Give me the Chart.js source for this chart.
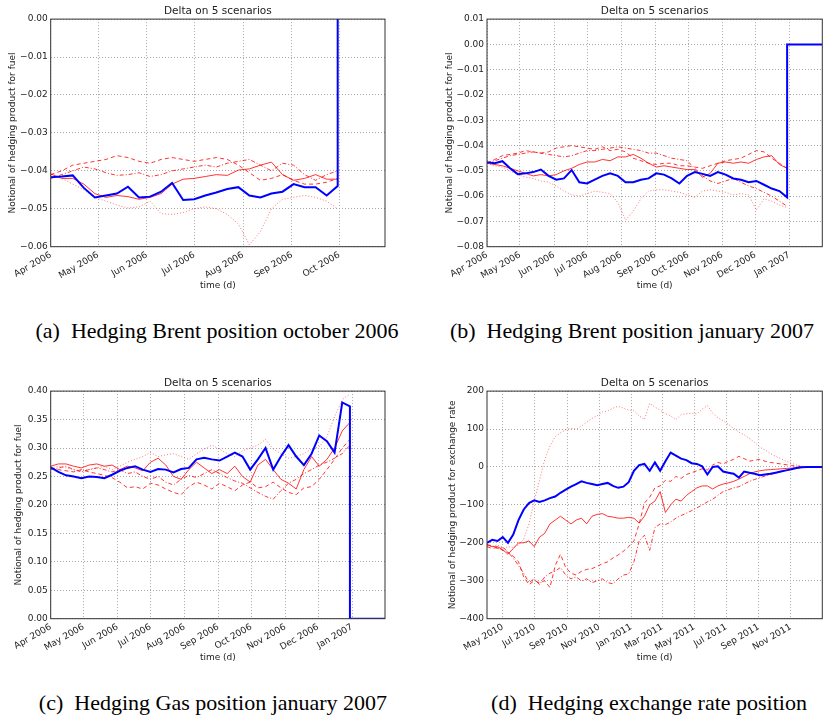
<!DOCTYPE html>
<html>
<head>
<meta charset="utf-8">
<script src="https://cdn.jsdelivr.net/npm/chart.js@4"></script>
<style>
  body { margin: 0; background: #fff; width: 833px; height: 719px; position: relative; overflow: hidden; }
  canvas { position: absolute; }
  .cap { position: absolute; width: 500px; text-align: center; font: 22px 'Liberation Serif', serif; line-height: 22px; color: #000; white-space: nowrap; }
</style>
</head>
<body>
<canvas id="ca" width="400" height="293" style="left:0;top:0"></canvas>
<canvas id="cb" width="420" height="293" style="left:413px;top:0"></canvas>
<canvas id="cc" width="400" height="293" style="left:0;top:372px"></canvas>
<canvas id="cd" width="420" height="293" style="left:413px;top:372px"></canvas>
<div class="cap" style="left:-33px;top:320px">(a)&#8194;Hedging Brent position october 2006</div>
<div class="cap" style="left:382px;top:320px">(b)&#8194;Hedging Brent position january 2007</div>
<div class="cap" style="left:-37px;top:692px">(c)&#8194;Hedging Gas position january 2007</div>
<div class="cap" style="left:399px;top:692px">(d)&#8194;Hedging exchange rate position</div>
<script>
// (a) Brent Oct 2006 -- one value every 7 days from 1 Apr 2006
const aStart = '2006-04-01';
const aTicks = ['2006-04-01', '2006-05-01', '2006-06-01', '2006-07-01', '2006-08-01', '2006-09-01', '2006-10-01'];
const aBlue = [-0.0417, -0.0415, -0.0412, -0.0445, -0.047, -0.0465, -0.046, -0.0442, -0.047, -0.0468, -0.0455, -0.0432, -0.0477, -0.0475, -0.0465, -0.0457, -0.0448, -0.0443, -0.0465, -0.047, -0.046, -0.0455, -0.0435, -0.0443, -0.0443, -0.0465, -0.044];
const aBlueTailDays = [182];
const aBlueTailVals = [0];
const aRed = [-0.0408, -0.042, -0.042, -0.0435, -0.046, -0.047, -0.0465, -0.0468, -0.0475, -0.047, -0.046, -0.0435, -0.0422, -0.042, -0.0415, -0.041, -0.0412, -0.0398, -0.0395, -0.0385, -0.0377, -0.041, -0.0425, -0.042, -0.041, -0.0422, -0.0422];
const aDash = [-0.041, -0.040, -0.0385, -0.038, -0.0375, -0.037, -0.036, -0.0365, -0.0375, -0.038, -0.037, -0.0365, -0.037, -0.0375, -0.037, -0.0365, -0.037, -0.0385, -0.0405, -0.0425, -0.042, -0.041, -0.0425, -0.0435, -0.0435, -0.043, -0.042];
const aDashDot = [-0.042, -0.041, -0.040, -0.039, -0.0395, -0.0405, -0.0412, -0.041, -0.0405, -0.0415, -0.041, -0.040, -0.0395, -0.039, -0.0385, -0.039, -0.038, -0.0375, -0.037, -0.0385, -0.040, -0.038, -0.0385, -0.041, -0.0425, -0.041, -0.040];
const aDot = [-0.041, -0.042, -0.0435, -0.045, -0.047, -0.048, -0.049, -0.0498, -0.0495, -0.048, -0.0513, -0.0515, -0.051, -0.050, -0.0495, -0.050, -0.0515, -0.054, -0.0595, -0.056, -0.050, -0.0475, -0.047, -0.0465, -0.047, -0.048, -0.050];

// (b) Brent Jan 2007
const bStart = '2006-04-01';
const bTicks = ['2006-04-01', '2006-05-01', '2006-06-01', '2006-07-01', '2006-08-01', '2006-09-01', '2006-10-01', '2006-11-01', '2006-12-01', '2007-01-01'];
const bBlue = [-0.0466, -0.047, -0.0462, -0.049, -0.0513, -0.051, -0.0505, -0.0495, -0.052, -0.0535, -0.053, -0.0497, -0.0545, -0.055, -0.0535, -0.052, -0.051, -0.052, -0.0545, -0.0545, -0.0535, -0.053, -0.051, -0.0515, -0.053, -0.055, -0.052, -0.0505, -0.0512, -0.052, -0.0505, -0.0515, -0.053, -0.0535, -0.0545, -0.054, -0.0555, -0.057, -0.058, -0.0605];
const bBlueTailDays = [273, 305];
const bBlueTailVals = [0, 0];
const bRed = [-0.047, -0.0475, -0.048, -0.049, -0.050, -0.051, -0.052, -0.0515, -0.052, -0.0515, -0.050, -0.049, -0.0475, -0.0465, -0.0465, -0.0455, -0.046, -0.0445, -0.0445, -0.0435, -0.045, -0.047, -0.0485, -0.048, -0.0485, -0.049, -0.0495, -0.0495, -0.0525, -0.051, -0.047, -0.0465, -0.047, -0.0465, -0.047, -0.0455, -0.0445, -0.044, -0.0475, -0.049];
const bDash = [-0.047, -0.0455, -0.044, -0.0435, -0.043, -0.042, -0.0425, -0.043, -0.0425, -0.041, -0.0405, -0.040, -0.0405, -0.041, -0.0415, -0.0405, -0.042, -0.0415, -0.0425, -0.045, -0.046, -0.047, -0.0475, -0.047, -0.047, -0.048, -0.048, -0.0485, -0.049, -0.048, -0.047, -0.046, -0.0455, -0.045, -0.0435, -0.042, -0.0425, -0.045, -0.047, -0.049];
const bDashDot = [-0.047, -0.046, -0.045, -0.044, -0.0435, -0.043, -0.0425, -0.043, -0.0435, -0.044, -0.0445, -0.044, -0.043, -0.042, -0.042, -0.0415, -0.041, -0.0405, -0.041, -0.0415, -0.042, -0.043, -0.043, -0.044, -0.045, -0.0455, -0.046, -0.049, -0.052, -0.054, -0.055, -0.054, -0.053, -0.0545, -0.056, -0.057, -0.0585, -0.060, -0.062, -0.064];
const bDot = [-0.047, -0.048, -0.0485, -0.050, -0.0515, -0.0525, -0.053, -0.054, -0.0545, -0.056, -0.058, -0.0595, -0.060, -0.059, -0.058, -0.0585, -0.059, -0.0625, -0.0695, -0.066, -0.061, -0.058, -0.0575, -0.0575, -0.058, -0.0585, -0.0595, -0.0605, -0.058, -0.0575, -0.058, -0.0585, -0.0595, -0.059, -0.0595, -0.0655, -0.061, -0.062, -0.0635, -0.0645];

// (c) Gas Jan 2007
const cStart = '2006-04-01';
const cTicks = bTicks;
const cBlue = [0.266, 0.258, 0.252, 0.250, 0.247, 0.250, 0.249, 0.247, 0.253, 0.260, 0.265, 0.268, 0.262, 0.258, 0.263, 0.262, 0.257, 0.263, 0.265, 0.280, 0.283, 0.280, 0.278, 0.285, 0.292, 0.285, 0.262, 0.280, 0.300, 0.262, 0.285, 0.305, 0.285, 0.270, 0.290, 0.322, 0.312, 0.292, 0.380, 0.373];
const cBlueTailDays = [273, 305];
const cBlueTailVals = [0, 0];
const cRed = [0.268, 0.272, 0.272, 0.268, 0.265, 0.270, 0.272, 0.268, 0.270, 0.262, 0.268, 0.265, 0.260, 0.275, 0.282, 0.270, 0.250, 0.245, 0.262, 0.275, 0.265, 0.255, 0.262, 0.255, 0.268, 0.250, 0.240, 0.270, 0.280, 0.262, 0.245, 0.238, 0.228, 0.262, 0.285, 0.268, 0.280, 0.300, 0.330, 0.345];
const cDash = [0.265, 0.262, 0.260, 0.258, 0.262, 0.258, 0.255, 0.252, 0.248, 0.240, 0.230, 0.232, 0.228, 0.238, 0.235, 0.228, 0.222, 0.218, 0.232, 0.240, 0.235, 0.228, 0.238, 0.232, 0.225, 0.235, 0.240, 0.230, 0.232, 0.240, 0.230, 0.222, 0.218, 0.230, 0.232, 0.245, 0.262, 0.280, 0.300, 0.315];
const cDashDot = [0.262, 0.265, 0.268, 0.262, 0.258, 0.262, 0.265, 0.262, 0.258, 0.262, 0.255, 0.258, 0.250, 0.245, 0.250, 0.240, 0.235, 0.245, 0.252, 0.248, 0.255, 0.262, 0.255, 0.248, 0.242, 0.238, 0.230, 0.222, 0.215, 0.210, 0.225, 0.238, 0.245, 0.255, 0.262, 0.270, 0.275, 0.282, 0.290, 0.305];
const cDot = [0.265, 0.268, 0.265, 0.262, 0.260, 0.262, 0.265, 0.268, 0.262, 0.268, 0.275, 0.280, 0.285, 0.292, 0.285, 0.288, 0.290, 0.285, 0.280, 0.290, 0.298, 0.305, 0.298, 0.290, 0.285, 0.295, 0.300, 0.305, 0.315, 0.298, 0.290, 0.282, 0.285, 0.290, 0.298, 0.302, 0.320, 0.355, 0.385, 0.395];

// (d) exchange rate -- one value every 10 days from 1 Apr 2010
const dStart = '2010-04-01';
const dTicks = ['2010-05-01', '2010-07-01', '2010-09-01', '2010-11-01', '2011-01-01', '2011-03-01', '2011-05-01', '2011-07-01', '2011-09-01', '2011-11-01'];
const dBlue = [-200, -192, -195, -185, -200, -178, -140, -112, -95, -88, -92, -88, -82, -78, -68, -60, -52, -45, -38, -42, -45, -48, -45, -42, -50, -55, -52, -40, -10, 5, 8, -10, 12, -10, 15, 38, 30, 22, 18, 10, 8, 2, -20, 0, 2, -12, -15, -18, -28, -12, -15, -18, -22, -20, -18, -15, -12, -9, -6, -3, -1, 0, 0, 0, 0];
const dRed = [-205, -210, -210, -218, -230, -215, -200, -200, -195, -210, -185, -175, -150, -140, -130, -140, -150, -140, -135, -150, -130, -125, -123, -130, -132, -135, -135, -133, -135, -148, -130, -100, -90, -65, -120, -100, -85, -90, -75, -65, -55, -50, -50, -58, -50, -45, -42, -38, -32, -25, -18, -13, -10, -8, -7, -6, -5, -4, -3, -2, -1, 0, 0, 0, 0];
const dDash = [-210, -215, -212, -220, -225, -235, -250, -290, -310, -300, -305, -300, -318, -260, -230, -265, -280, -285, -275, -270, -268, -262, -255, -250, -240, -232, -222, -210, -195, -150, -95, -80, -55, -50, -35, -38, -25, -30, -20, -15, -10, -5, -8, 5, 12, 8, 15, 20, 28, 22, 15, 18, 20, 15, 12, 10, 8, 6, 4, 2, 1, 0, 0, 0, 0];
const dDashDot = [-205, -208, -215, -210, -225, -240, -260, -280, -305, -295, -310, -290, -280, -275, -265, -285, -295, -290, -300, -295, -305, -300, -295, -305, -308, -295, -285, -282, -250, -195, -180, -220, -160, -150, -152, -145, -135, -128, -122, -115, -108, -100, -92, -85, -75, -65, -60, -55, -52, -45, -38, -33, -28, -24, -20, -16, -12, -9, -6, -3, -1, 0, 0, 0, 0];
const dDot = [-205, -210, -205, -215, -210, -212, -205, -190, -150, -90, -35, 20, 55, 80, 90, 98, 102, 100, 108, 118, 128, 135, 145, 148, 155, 160, 155, 150, 148, 135, 125, 168, 158, 150, 140, 135, 125, 138, 140, 142, 140, 152, 162, 142, 130, 122, 112, 102, 92, 85, 75, 65, 52, 45, 35, 28, 22, 15, 10, 5, 2, 0, 0, 0, 0];

const monthNames = ['Jan', 'Feb', 'Mar', 'Apr', 'May', 'Jun', 'Jul', 'Aug', 'Sep', 'Oct', 'Nov', 'Dec'];
const dayOf = (iso, start) => Math.round((Date.parse(iso) - Date.parse(start)) / 864e5);
const tickName = iso => monthNames[+iso.slice(5, 7) - 1] + ' ' + iso.slice(0, 4);

function pts(vals, step, days) {
  return vals.map((v, i) => ({ x: days ? days[i] : i * step, y: v }));
}

const styles = {
  blue: { borderColor: '#0000ff', borderWidth: 2 },
  solid: { borderColor: '#ff0000', borderWidth: 0.8 },
  dash: { borderColor: '#ff0000', borderWidth: 0.8, borderDash: [4, 3] },
  dashdot: { borderColor: '#ff0000', borderWidth: 0.8, borderDash: [4, 2, 1, 2] },
  dot: { borderColor: 'rgba(255,0,0,0.55)', borderWidth: 1, borderDash: [1, 2] }
};

// matplotlib draws a box around the axes
const frame = {
  id: 'frame',
  afterDatasetsDraw(chart) {
    const { ctx, chartArea: a } = chart;
    ctx.save();
    ctx.strokeStyle = '#333';
    ctx.lineWidth = 1;
    ctx.strokeRect(a.left, a.top, a.right - a.left, a.bottom - a.top);
    ctx.restore();
  }
};

function fmt(v, dec) {
  const r = Math.round(v * Math.pow(10, dec)) / Math.pow(10, dec);
  return (r < 0 ? '\u2212' : '') + Math.abs(r).toFixed(dec);
}

const txt = '#222';
const gridStyle = { color: '#a8a8a8', lineWidth: 1, drawTicks: false };

function makeChart(id, o) {
  const tickDays = o.ticks.map(t => dayOf(t, o.start));
  const tickText = o.ticks.map(tickName);
  new Chart(document.getElementById(id), {
    type: 'line',
    data: {
      datasets: [
        { data: o.blue, ...styles.blue },
        { data: o.red, ...styles.solid },
        { data: o.dash, ...styles.dash },
        { data: o.dashdot, ...styles.dashdot },
        { data: o.dot, ...styles.dot }
      ]
    },
    options: {
      responsive: false,
      animation: false,
      devicePixelRatio: 1,
      layout: { padding: { left: 0, right: o.padRight, top: 0, bottom: 0 } },
      elements: { point: { radius: 0 }, line: { tension: 0 } },
      plugins: {
        legend: { display: false },
        tooltip: { enabled: false },
        title: {
          display: true, text: 'Delta on 5 scenarios', fullSize: false, color: txt,
          font: { family: 'DejaVu Sans', size: 10.5, weight: 'normal' },
          padding: { top: 4.5, bottom: 2 }
        }
      },
      scales: {
        x: {
          type: 'linear', min: 0, max: o.xMax,
          afterFit: s => { s.height = 46.3; },
          afterBuildTicks: s => { s.ticks = tickDays.map(v => ({ value: v })); },
          ticks: {
            autoSkip: false, minRotation: 30, maxRotation: 30, padding: 3, color: txt,
            font: { family: 'DejaVu Sans', size: 9 },
            callback: (v, i) => tickText[i]
          },
          grid: gridStyle,
          border: { display: false, dash: [1, 2] },
          title: {
            display: true, text: 'time (d)', color: txt,
            font: { family: 'DejaVu Sans', size: 9 },
            padding: { top: 0, bottom: 2 }
          }
        },
        y: {
          min: o.yMin, max: o.yMax,
          afterFit: s => { s.width = o.yWidth; },
          ticks: {
            stepSize: o.yStep, padding: 3, color: txt,
            font: { family: 'DejaVu Sans', size: 9 },
            callback: v => fmt(v, o.dec)
          },
          grid: gridStyle,
          border: { display: false, dash: [1, 2] },
          title: {
            display: true, text: o.yLabel, color: txt,
            font: { family: 'DejaVu Sans', size: 9 },
            padding: { top: o.yTitlePad, bottom: 0 }
          }
        }
      }
    },
    plugins: [frame]
  });
}

makeChart('ca', {
  start: aStart, ticks: aTicks, xMax: 212, yMin: -0.06, yMax: 0, yStep: 0.01, dec: 2,
  yLabel: 'Notional of hedging product for fuel', yWidth: 50.7, yTitlePad: 7, padRight: 15,
  blue: pts(aBlue, 7).concat(pts(aBlueTailVals, 0, aBlueTailDays)),
  red: pts(aRed, 7), dash: pts(aDash, 7), dashdot: pts(aDashDot, 7), dot: pts(aDot, 7)
});

makeChart('cb', {
  start: bStart, ticks: bTicks, xMax: 305, yMin: -0.08, yMax: 0.01, yStep: 0.01, dec: 2,
  yLabel: 'Notional of hedging product for fuel', yWidth: 74, yTitlePad: 31.3, padRight: 10.7,
  blue: pts(bBlue, 7).concat(pts(bBlueTailVals, 0, bBlueTailDays)),
  red: pts(bRed, 7), dash: pts(bDash, 7), dashdot: pts(bDashDot, 7), dot: pts(bDot, 7)
});

makeChart('cc', {
  start: cStart, ticks: cTicks, xMax: 305, yMin: 0, yMax: 0.4, yStep: 0.05, dec: 2,
  yLabel: 'Notional of hedging product for fuel', yWidth: 50.7, yTitlePad: 13.6, padRight: 15,
  blue: pts(cBlue, 7).concat(pts(cBlueTailVals, 0, cBlueTailDays)),
  red: pts(cRed, 7), dash: pts(cDash, 7), dashdot: pts(cDashDot, 7), dot: pts(cDot, 7)
});

makeChart('cd', {
  start: dStart, ticks: dTicks, xMax: 639, yMin: -400, yMax: 200, yStep: 100, dec: 0,
  yLabel: 'Notional of hedging product for exchange rate', yWidth: 74, yTitlePad: 33.9, padRight: 10.7,
  blue: pts(dBlue, 10),
  red: pts(dRed, 10), dash: pts(dDash, 10), dashdot: pts(dDashDot, 10), dot: pts(dDot, 10)
});
</script>
</body>
</html>
